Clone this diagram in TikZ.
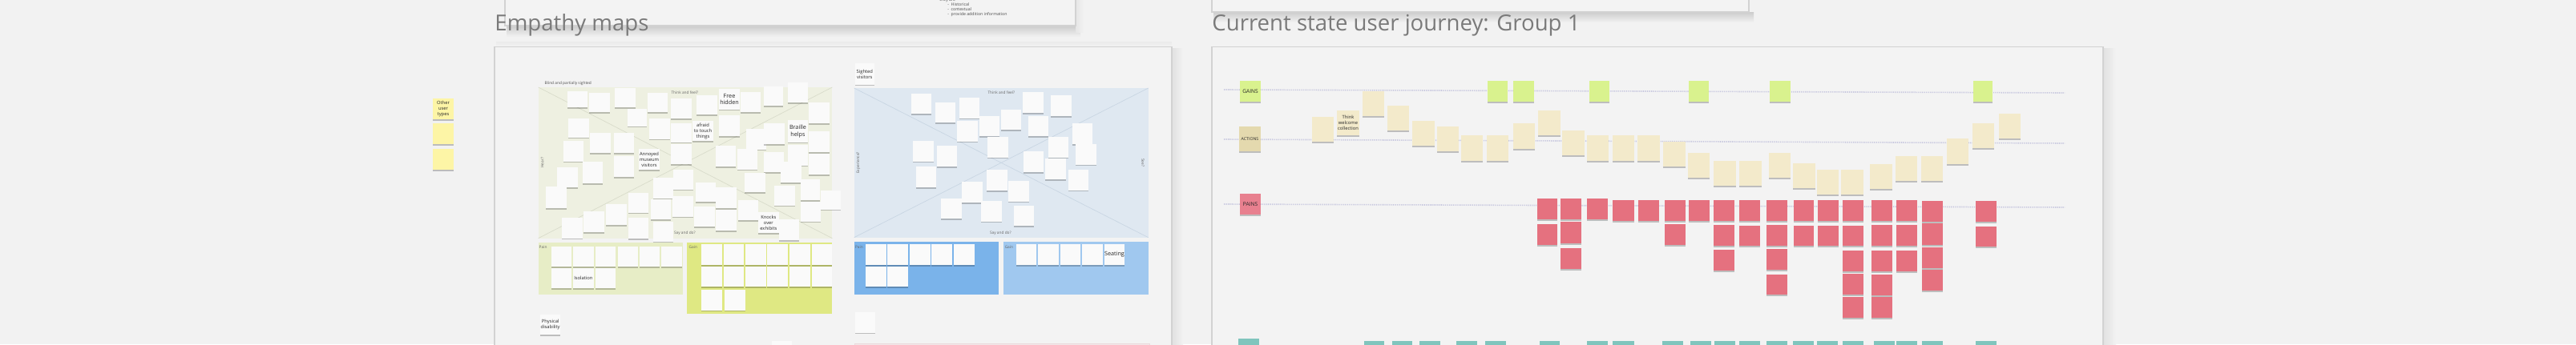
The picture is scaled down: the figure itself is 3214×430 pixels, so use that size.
\documentclass[tikz,border=0pt]{standalone}
\usepackage{fontspec}
\setmainfont{Open Sans}
\usetikzlibrary{shadows}
\definecolor{bg}{HTML}{F2F2F2}
\definecolor{frameline}{HTML}{D2D2D2}
\definecolor{framefill}{HTML}{F3F3F3}
\definecolor{titlegray}{HTML}{7A7A7A}
\definecolor{greenarea}{HTML}{EEF0E1}
\definecolor{greenline}{HTML}{D9DCCB}
\definecolor{greenpain}{HTML}{E7EDC6}
\definecolor{greengain}{HTML}{DFE883}
\definecolor{bluearea}{HTML}{DFE8F1}
\definecolor{blueline}{HTML}{C9D6E3}
\definecolor{bluepain}{HTML}{7AB3EA}
\definecolor{bluegain}{HTML}{A0C8EF}
\definecolor{stwhite}{HTML}{FAFAFA}
\definecolor{styellow}{HTML}{FDF5A6}
\definecolor{stlime}{HTML}{D9F28E}
\definecolor{sttan}{HTML}{E4D9AE}
\definecolor{stcream}{HTML}{F3EACB}
\definecolor{stpink}{HTML}{E5717F}
\definecolor{stpinklab}{HTML}{E8808F}
\definecolor{stteal}{HTML}{80C5BD}
\definecolor{guideline}{HTML}{C6C6DE}
\definecolor{pinkbox}{HTML}{F3E7E9}
\definecolor{pinkboxline}{HTML}{EAD9DC}
\tikzset{
  sticky/.style={fill=stwhite, inner sep=0pt, align=center, text=black!85,
    font=\fontsize{2.2}{2.6}\selectfont,
    drop shadow={shadow xshift=0pt, shadow yshift=-0.9pt, opacity=0.22, fill=black}},
  bigt/.style={font=\fontsize{3.6}{4.3}\selectfont},
  midt/.style={font=\fontsize{2.9}{3.5}\selectfont},
  labt/.style={font=\fontsize{3.3}{4}\selectfont},
  labs/.style={font=\fontsize{2.6}{3.2}\selectfont},
  quadlabel/.style={inner sep=0pt, text=black!60, font=\fontsize{2.4}{2.8}\selectfont},
  guide/.style={draw=guideline, line width=0.8pt, dash pattern=on 0.6pt off 0.6pt},
  diag/.style={line width=0.35pt},
  frame/.style={fill=framefill, draw=frameline, line width=0.9pt},
  title/.style={anchor=base west, inner sep=0pt, text=titlegray, font=\fontsize{13.8}{16}\selectfont},
}
\def\sc{0.5}
\newcommand\stk[7][]{\node[sticky,#1,minimum width={((#5)-(#3))*\sc pt},minimum height={((#6)-(#4))*\sc pt}] (#2) at ({((#3)+(#5))/2},{((#4)+(#6))/2}) {#7};}
\begin{document}
\begin{tikzpicture}[x=0.5pt,y=-0.5pt]
\useasboundingbox (0,0) rectangle (3214,430);
\clip (0,0) rectangle (3214,430);
\fill[bg] (0,0) rectangle (3214,430);

% ---------- top frames (cut by the top edge) ----------
\shade[top color=black!20, bottom color=bg] (632,32) rectangle (1348,46);
\shade[left color=black!10, right color=bg] (1342,-5) rectangle (1352,40);
\node[frame, minimum width=356pt, minimum height=21pt, inner sep=0pt] (topA) at (986,11) {};
\node[anchor=west, inner sep=0pt, text=black!70, font=\fontsize{2.6}{3}\selectfont] (tA0) at (1172,0) {they are};
\node[anchor=west, inner sep=0pt, text=black!70, font=\fontsize{2.6}{3}\selectfont] (tA1) at (1182,5.5) {-\enspace Historical};
\node[anchor=west, inner sep=0pt, text=black!70, font=\fontsize{2.6}{3}\selectfont] (tA2) at (1182,12) {-\enspace contextual};
\node[anchor=west, inner sep=0pt, text=black!70, font=\fontsize{2.6}{3}\selectfont] (tA3) at (1182,18.5) {-\enspace provide addition information};

\shade[top color=black!20, bottom color=bg] (1514,15) rectangle (2188,28);
\node[frame, minimum width=335pt, minimum height=12.5pt, inner sep=0pt] (topB) at (1847,2.5) {};

% ---------- titles ----------
\node[title] (tEmp) at (617,38) {Empathy maps};
\node[title] (tJour) at (1512,38) {Current state user journey: Group 1};

% ---------- frames ----------
\shade[left color=black!12, right color=bg] (1462,60) rectangle (1476,430);
\shade[left color=black!12, right color=bg] (2624,60) rectangle (2640,430);
\shade[top color=black!8, bottom color=bg] (619,52) rectangle (1462,58);
\draw[frame] (617,58.5) rectangle (1462,460);
\draw[frame] (1512,58.5) rectangle (2624,460);

% ---------- other user types (yellow) ----------
\stk[fill=styellow,midt]{y1}{540}{123}{566}{149}{Other\\user\\types}
\stk[fill=styellow]{y2}{540}{154}{566}{180}{}
\stk[fill=styellow]{y3}{540}{186}{566}{212}{}

% ---------- Empathy map: blind and partially sighted ----------
\begin{scope}[shift={(330pt,-47.5pt)},x=0.166667pt,y=-0.166667pt]
\def\sc{0.166667}
\fill[greenarea] (35,42) rectangle (1135,608);
\draw[diag,greenline] (35,42) -- (1135,608);
\draw[diag,greenline] (1135,42) -- (35,608);
\node[quadlabel, anchor=west, text=black!70] (qB) at (58,27) {Blind and partially sighted};
\node[quadlabel] (qT1) at (583,62) {Think and feel?};
\node[quadlabel] (qS1) at (583,590) {Say and do?};
\node[quadlabel, rotate=90] (qH1) at (50,325) {Hear?};
\stk{e1}{145}{58}{220}{118}{}
\stk{e2}{225}{62}{302}{135}{}
\stk{e3}{322}{45}{398}{118}{}
\stk{e4}{368}{122}{440}{188}{}
\stk{e5}{445}{62}{520}{135}{}
\stk{e6}{532}{85}{608}{160}{}
\stk{e7}{628}{72}{705}{145}{}
\stk[bigt]{e8}{712}{48}{788}{125}{Free\\hidden}
\stk{e9}{792}{60}{868}{135}{}
\stk{e10}{878}{40}{952}{112}{}
\stk{e11}{968}{25}{1045}{100}{}
\stk{e12}{1048}{98}{1125}{178}{}
\stk{e13}{148}{158}{225}{230}{}
\stk{e14}{228}{212}{305}{288}{}
\stk{e15}{318}{212}{392}{288}{}
\stk{e16}{450}{158}{528}{236}{}
\stk{e17}{532}{178}{608}{248}{}
\stk[midt]{e18}{612}{168}{690}{243}{afraid\\to touch\\things}
\stk{e19}{712}{148}{788}{225}{}
\stk{e20}{812}{198}{888}{275}{}
\stk{e21}{880}{178}{958}{255}{}
\stk[bigt]{e22}{968}{165}{1045}{248}{Braille\\helps}
\stk{e23}{1048}{208}{1125}{285}{}
\stk{e24}{128}{243}{205}{320}{}
\stk[midt]{e25}{412}{272}{488}{352}{Annoyed\\museum\\visitors}
\stk{e26}{530}{255}{608}{330}{}
\stk{e27}{318}{300}{392}{378}{}
\stk{e28}{698}{262}{775}{340}{}
\stk{e29}{780}{272}{855}{350}{}
\stk{e30}{878}{285}{955}{360}{}
\stk{e31}{968}{258}{1045}{335}{}
\stk{e32}{1048}{290}{1125}{370}{}
\stk{e33}{105}{343}{182}{418}{}
\stk{e34}{200}{322}{275}{402}{}
\stk{e35}{942}{322}{1020}{400}{}
\stk{e36}{540}{350}{615}{425}{}
\stk{e37}{465}{382}{540}{458}{}
\stk{e38}{625}{398}{700}{472}{}
\stk{e39}{700}{418}{778}{495}{}
\stk{e40}{808}{362}{885}{435}{}
\stk{e41}{918}{410}{995}{485}{}
\stk{e42}{1018}{388}{1090}{465}{}
\stk{e43}{1092}{430}{1168}{500}{}
\stk{e44}{62}{415}{140}{495}{}
\stk{e45}{372}{438}{448}{512}{}
\stk{e46}{455}{462}{530}{538}{}
\stk{e47}{538}{450}{615}{527}{}
\stk{e48}{618}{490}{695}{565}{}
\stk{e49}{700}{502}{778}{580}{}
\stk{e50}{782}{465}{858}{540}{}
\stk[midt]{e51}{858}{510}{935}{588}{Knocks\\over\\exhibits}
\stk{e52}{1018}{470}{1092}{545}{}
\stk{e53}{935}{538}{1012}{615}{}
\stk{e54}{288}{480}{365}{558}{}
\stk{e55}{205}{508}{282}{585}{}
\stk{e56}{123}{532}{200}{608}{}
\stk{e57}{372}{530}{448}{610}{}
\stk{e58}{465}{545}{540}{620}{}
\end{scope}

\begin{scope}[shift={(330pt,-147.5pt)},x=0.166667pt,y=-0.166667pt]
\def\sc{0.166667}
\fill[greenpain] (35,25) rectangle (575,218);
\fill[greengain] (592,25) rectangle (1135,290);
\node[quadlabel, anchor=west] (pL1) at (37,42) {Pain};
\node[quadlabel, anchor=west] (gL1) at (598,42) {Gain};
\stk{p1}{85}{40}{160}{115}{}
\stk{p2}{165}{40}{242}{115}{}
\stk{p3}{250}{40}{325}{115}{}
\stk{p4}{332}{40}{408}{115}{}
\stk{p5}{415}{40}{490}{115}{}
\stk{p6}{495}{40}{572}{115}{}
\stk{p7}{85}{120}{160}{195}{}
\stk[midt]{p8}{165}{120}{242}{195}{Isolation}
\stk{p9}{250}{120}{325}{195}{}
\stk{g1}{645}{30}{722}{108}{}
\stk{g2}{728}{30}{805}{108}{}
\stk{g3}{810}{30}{887}{108}{}
\stk{g4}{892}{30}{968}{108}{}
\stk{g5}{975}{30}{1052}{108}{}
\stk{g6}{1058}{30}{1135}{108}{}
\stk{g7}{645}{113}{722}{190}{}
\stk{g8}{728}{113}{805}{190}{}
\stk{g9}{810}{113}{887}{190}{}
\stk{g10}{892}{113}{968}{190}{}
\stk{g11}{975}{113}{1052}{190}{}
\stk{g12}{1058}{113}{1135}{190}{}
\stk{g13}{645}{202}{722}{278}{}
\stk{g14}{732}{202}{810}{278}{}
\stk[midt]{phys}{42}{295}{118}{370}{Physical\\disability}
\stk{bot1}{910}{392}{985}{470}{}
\end{scope}

% ---------- Empathy map: sighted visitors ----------
\begin{scope}[shift={(527.5pt,-37.5pt)},x=0.166667pt,y=-0.166667pt]
\def\sc{0.166667}
\fill[bluearea] (32,105) rectangle (1133,665);
\draw[diag,blueline] (32,105) -- (1133,665);
\draw[diag,blueline] (1133,105) -- (32,665);
\node[quadlabel] (qT2) at (583,122) {Think and feel?};
\node[quadlabel] (qS2) at (580,648) {Say and do?};
\node[quadlabel, rotate=90] (qE2) at (48,385) {Experience?};
\node[quadlabel, rotate=-90] (qSe2) at (1113,385) {See?};
\stk[midt]{sv}{35}{12}{108}{92}{Sighted\\visitors}
\stk{b1}{245}{125}{320}{202}{}
\stk{b2}{335}{158}{410}{235}{}
\stk{b3}{425}{142}{500}{218}{}
\stk{b4}{418}{228}{495}{305}{}
\stk{b5}{500}{210}{575}{285}{}
\stk{b6}{582}{185}{658}{262}{}
\stk{b7}{532}{288}{608}{365}{}
\stk{b8}{663}{120}{740}{198}{}
\stk{b9}{685}{210}{760}{285}{}
\stk{b10}{768}{132}{845}{210}{}
\stk{b11}{850}{238}{925}{315}{}
\stk{b12}{862}{315}{938}{392}{}
\stk{b13}{760}{288}{835}{365}{}
\stk{b14}{665}{342}{740}{420}{}
\stk{b15}{748}{368}{825}{448}{}
\stk{b16}{835}{410}{910}{488}{}
\stk{b17}{252}{302}{330}{380}{}
\stk{b18}{342}{322}{418}{400}{}
\stk{b19}{265}{400}{340}{478}{}
\stk{b20}{528}{412}{605}{490}{}
\stk{b21}{608}{452}{688}{530}{}
\stk{b22}{435}{455}{512}{535}{}
\stk{b23}{358}{518}{435}{595}{}
\stk{b24}{508}{528}{585}{605}{}
\stk{b25}{630}{545}{706}{622}{}
\end{scope}

\begin{scope}[shift={(527.5pt,-147.5pt)},x=0.166667pt,y=-0.166667pt]
\def\sc{0.166667}
\fill[bluepain] (32,22) rectangle (573,218);
\fill[bluegain] (592,22) rectangle (1133,218);
\node[quadlabel, anchor=west] (pL2) at (35,42) {Pain};
\node[quadlabel, anchor=west] (gL2) at (595,42) {Gain};
\stk{bp1}{75}{30}{152}{108}{}
\stk{bp2}{157}{30}{235}{108}{}
\stk{bp3}{240}{30}{318}{108}{}
\stk{bp4}{322}{30}{398}{108}{}
\stk{bp5}{405}{30}{482}{108}{}
\stk{bp6}{75}{113}{152}{190}{}
\stk{bp7}{157}{113}{233}{190}{}
\stk{bg1}{638}{30}{715}{108}{}
\stk{bg2}{720}{30}{798}{108}{}
\stk{bg3}{803}{30}{880}{108}{}
\stk{bg4}{885}{30}{962}{108}{}
\stk[bigt]{bg5}{968}{30}{1045}{108}{Seating}
\stk{bsm}{35}{285}{112}{362}{}
\filldraw[fill=pinkbox, draw=pinkboxline, line width=0.4pt] (35,404) rectangle (1138,460);
\end{scope}

% ---------- Current state user journey ----------
\coordinate (gs) at (1527,112); \coordinate (ge) at (2576,116);
\coordinate (as) at (1527,174); \coordinate (ae) at (2576,179);
\coordinate (ps) at (1527,255); \coordinate (pe) at (2576,259);
\draw[guide] (gs) -- (ge);
\draw[guide] (as) -- (ae);
\draw[guide] (ps) -- (pe);

\stk[fill=stlime,labt]{GAINS}{1547}{101}{1573}{127}{GAINS}
\stk[fill=sttan,labs]{ACTIONS}{1546}{158}{1573}{189}{ACTIONS}
\stk[fill=stpinklab,labt]{PAINS}{1547}{242}{1573}{268}{PAINS}
\stk[fill=stteal]{TEAL}{1545}{423}{1571}{450}{}

% gains
\stk[fill=stlime]{jg1}{1856}{101}{1881}{127}{}
\stk[fill=stlime]{jg2}{1888}{101}{1914}{127}{}
\stk[fill=stlime]{jg3}{1983}{101}{2008}{127}{}
\stk[fill=stlime]{jg4}{2107}{101}{2132}{127}{}
\stk[fill=stlime]{jg5}{2208}{101}{2234}{127}{}
\stk[fill=stlime]{jg6}{2462}{101}{2486}{127}{}

% actions
\tikzset{act/.style={fill=stcream}}
\stk[act]{a1}{1637}{146}{1664}{177}{}
\stk[act,midt]{a2}{1668}{138}{1696}{169}{Think\\welcome\\collection}
\stk[act]{a3}{1700}{114}{1727}{145}{}
\stk[act]{a4}{1731}{132}{1758}{163}{}
\stk[act]{a5}{1762}{151}{1790}{182}{}
\stk[act]{a6}{1793}{158}{1820}{189}{}
\stk[act]{a7}{1823}{169}{1850}{201}{}
\stk[act]{a8}{1855}{169}{1882}{201}{}
\stk[act]{a9}{1888}{154}{1915}{186}{}
\stk[act]{a10}{1919}{138}{1947}{169}{}
\stk[act]{a11}{1949}{163}{1977}{194}{}
\stk[act]{a12}{1980}{169}{2007}{201}{}
\stk[act]{a13}{2012}{169}{2039}{201}{}
\stk[act]{a14}{2043}{169}{2071}{201}{}
\stk[act]{a15}{2075}{177}{2103}{208}{}
\stk[act]{a16}{2106}{191}{2133}{222}{}
\stk[act]{a17}{2138}{201}{2166}{232}{}
\stk[act]{a18}{2170}{201}{2198}{232}{}
\stk[act]{a19}{2207}{191}{2234}{222}{}
\stk[act]{a20}{2237}{204}{2265}{235}{}
\stk[act]{a21}{2267}{212}{2294}{243}{}
\stk[act]{a22}{2297}{212}{2325}{243}{}
\stk[act]{a23}{2333}{205}{2361}{236}{}
\stk[act]{a24}{2365}{195}{2392}{226}{}
\stk[act]{a25}{2397}{195}{2424}{226}{}
\stk[act]{a26}{2429}{173}{2456}{205}{}
\stk[act]{a27}{2461}{154}{2488}{185}{}
\stk[act]{a28}{2494}{142}{2521}{173}{}

% pains
\tikzset{pn/.style={fill=stpink}}
\stk[pn]{c1a}{1918}{248}{1943}{274}{}
\stk[pn]{c1b}{1918}{280}{1943}{306}{}
\stk[pn]{c2a}{1947}{248}{1973}{274}{}
\stk[pn]{c2b}{1947}{277}{1973}{304}{}
\stk[pn]{c2c}{1947}{310}{1973}{336}{}
\stk[pn]{c3a}{1980}{248}{2006}{274}{}
\stk[pn]{c4a}{2012}{250}{2039}{276}{}
\stk[pn]{c5a}{2044}{250}{2070}{276}{}
\stk[pn]{c6a}{2077}{250}{2103}{276}{}
\stk[pn]{c6b}{2077}{280}{2103}{306}{}
\stk[pn]{c7a}{2107}{250}{2133}{276}{}
\stk[pn]{c8a}{2138}{250}{2164}{276}{}
\stk[pn]{c8b}{2138}{281}{2164}{307}{}
\stk[pn]{c8c}{2138}{312}{2164}{338}{}
\stk[pn]{c9a}{2170}{250}{2196}{276}{}
\stk[pn]{c9b}{2170}{282}{2196}{307}{}
\stk[pn]{c10a}{2204}{250}{2230}{276}{}
\stk[pn]{c10b}{2204}{281}{2230}{307}{}
\stk[pn]{c10c}{2204}{311}{2230}{337}{}
\stk[pn]{c10d}{2204}{343}{2230}{368}{}
\stk[pn]{c11a}{2238}{250}{2263}{276}{}
\stk[pn]{c11b}{2238}{282}{2263}{307}{}
\stk[pn]{c12a}{2268}{250}{2294}{276}{}
\stk[pn]{c12b}{2268}{282}{2294}{307}{}
\stk[pn]{c13a}{2299}{250}{2325}{276}{}
\stk[pn]{c13b}{2299}{282}{2325}{307}{}
\stk[pn]{c13c}{2299}{313}{2325}{339}{}
\stk[pn]{c13d}{2299}{342}{2325}{368}{}
\stk[pn]{c13e}{2299}{371}{2325}{397}{}
\stk[pn]{c14a}{2335}{250}{2361}{276}{}
\stk[pn]{c14b}{2335}{281}{2361}{307}{}
\stk[pn]{c14c}{2335}{313}{2361}{339}{}
\stk[pn]{c14d}{2335}{343}{2361}{369}{}
\stk[pn]{c14e}{2335}{371}{2361}{397}{}
\stk[pn]{c15a}{2366}{250}{2392}{276}{}
\stk[pn]{c15b}{2366}{281}{2392}{307}{}
\stk[pn]{c15c}{2366}{313}{2392}{339}{}
\stk[pn]{c16a}{2398}{251}{2424}{277}{}
\stk[pn]{c16b}{2398}{279}{2424}{306}{}
\stk[pn]{c16c}{2398}{309}{2424}{335}{}
\stk[pn]{c16d}{2398}{337}{2424}{363}{}
\stk[pn]{c17a}{2465}{251}{2491}{277}{}
\stk[pn]{c17b}{2465}{283}{2491}{308}{}

% teal row (cut by bottom edge)
\tikzset{tl/.style={fill=stteal}}
\stk[tl]{t1}{1702}{426}{1727}{452}{}
\stk[tl]{t2}{1737}{426}{1762}{452}{}
\stk[tl]{t3}{1771}{426}{1797}{452}{}
\stk[tl]{t4}{1817}{426}{1843}{452}{}
\stk[tl]{t5}{1853}{426}{1879}{452}{}
\stk[tl]{t6}{1921}{426}{1946}{452}{}
\stk[tl]{t7}{1980}{426}{2006}{452}{}
\stk[tl]{t8}{2012}{426}{2039}{452}{}
\stk[tl]{t9}{2074}{426}{2100}{452}{}
\stk[tl]{t10}{2109}{426}{2135}{452}{}
\stk[tl]{t11}{2139}{426}{2165}{452}{}
\stk[tl]{t12}{2170}{426}{2196}{452}{}
\stk[tl]{t13}{2204}{426}{2230}{452}{}
\stk[tl]{t14}{2237}{426}{2263}{452}{}
\stk[tl]{t15}{2267}{426}{2293}{452}{}
\stk[tl]{t16}{2299}{426}{2325}{452}{}
\stk[tl]{t17}{2338}{426}{2364}{452}{}
\stk[tl]{t18}{2366}{426}{2392}{452}{}
\stk[tl]{t19}{2398}{426}{2424}{452}{}
\stk[tl]{t20}{2465}{426}{2491}{452}{}
\end{tikzpicture}
\end{document}
